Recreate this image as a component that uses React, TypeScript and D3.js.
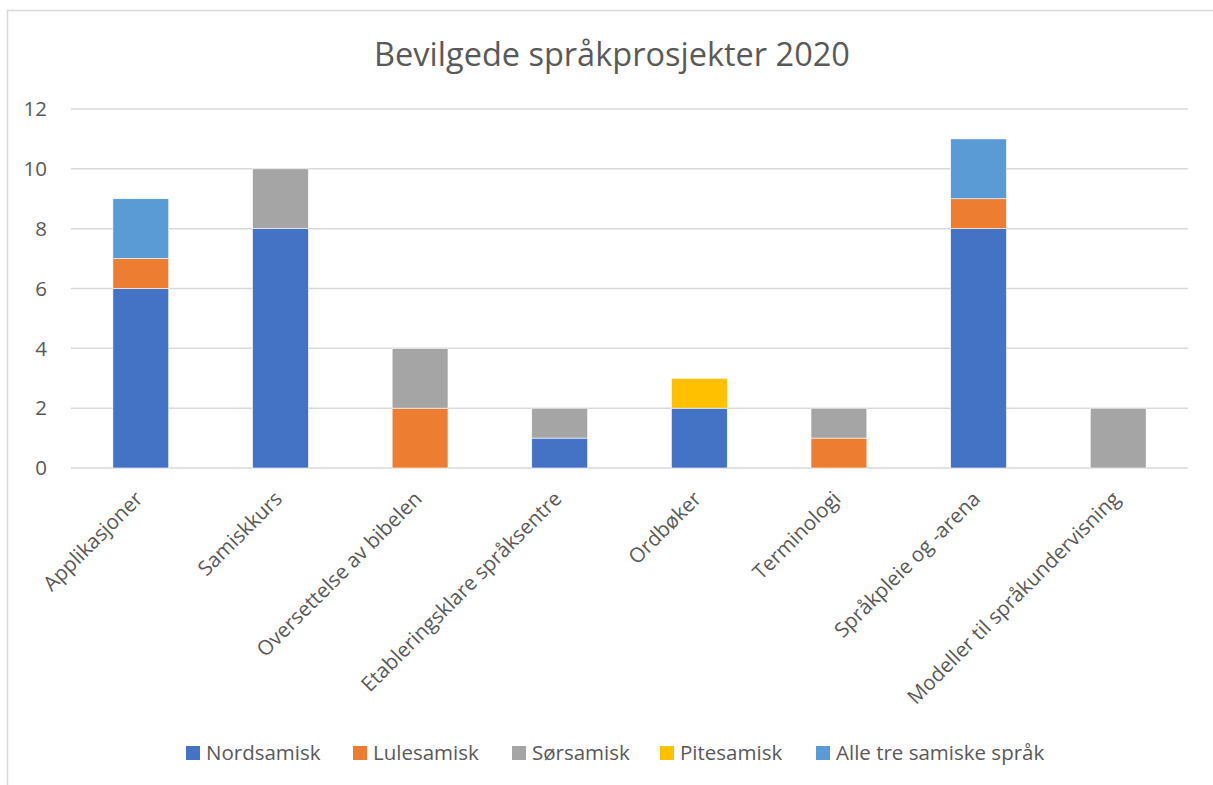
import { useEffect, useRef } from "react";
import * as d3 from "d3";

const categories = [
  "Applikasjoner",
  "Samiskkurs",
  "Oversettelse av bibelen",
  "Etableringsklare språksentre",
  "Ordbøker",
  "Terminologi",
  "Språkpleie og -arena",
  "Modeller til språkundervisning",
];

const seriesNames = ["Nordsamisk", "Lulesamisk", "Sørsamisk", "Pitesamisk", "Alle tre samiske språk"];
const nordsamisk = [6, 8, 0, 1, 2, 0, 8, 0];
const lulesamisk = [1, 0, 2, 0, 0, 1, 1, 0];
const sorsamisk = [0, 2, 2, 1, 0, 1, 0, 2];
const pitesamisk = [0, 0, 0, 0, 1, 0, 0, 0];
const alleTre = [2, 0, 0, 0, 0, 0, 2, 0];
const colors = ["#4472C4", "#ED7D31", "#A5A5A5", "#FFC000", "#5B9BD5"];
const yTicks = [0, 2, 4, 6, 8, 10, 12];

const FONT = "'Open Sans', sans-serif";

export default function App() {
  const ref = useRef<SVGSVGElement>(null);

  useEffect(() => {
    const svg = d3.select(ref.current);
    svg.selectAll("*").remove();

    const width = 1213;
    const height = 785;
    const margin = { top: 109, right: 25, bottom: 317, left: 71 };

    svg
      .append("rect")
      .attr("x", 7.5)
      .attr("y", 10.5)
      .attr("width", width)
      .attr("height", height)
      .attr("fill", "white")
      .attr("stroke", "#d9d9d9")
      .attr("stroke-width", 1.5);

    const x = d3
      .scaleBand()
      .domain(categories)
      .range([margin.left, width - margin.right])
      .paddingInner(0.6)
      .paddingOuter(0.3);

    const y = d3
      .scaleLinear()
      .domain([0, 12])
      .range([height - margin.bottom, margin.top]);

    // grid
    svg
      .append("g")
      .selectAll("line")
      .data(yTicks)
      .join("line")
      .attr("x1", margin.left)
      .attr("x2", width - margin.right)
      .attr("y1", (d) => y(d))
      .attr("y2", (d) => y(d))
      .attr("stroke", "#d9d9d9")
      .attr("stroke-width", 1.5);

    svg
      .append("g")
      .selectAll("text")
      .data(yTicks)
      .join("text")
      .attr("x", 47)
      .attr("y", (d) => y(d))
      .attr("dy", "0.35em")
      .attr("text-anchor", "end")
      .attr("font-family", FONT)
      .attr("font-size", 20.5)
      .attr("fill", "#595959")
      .text((d) => d);

    const table = categories.map((c, i) => ({
      cat: c,
      Nordsamisk: nordsamisk[i],
      Lulesamisk: lulesamisk[i],
      "Sørsamisk": sorsamisk[i],
      Pitesamisk: pitesamisk[i],
      "Alle tre samiske språk": alleTre[i],
    }));
    const stack = d3.stack<any>().keys(seriesNames)(table);

    svg
      .append("g")
      .selectAll("g")
      .data(stack)
      .join("g")
      .attr("fill", (_, i) => colors[i])
      .selectAll("rect")
      .data((s) => s.filter((d) => d[1] - d[0] > 0))
      .join("rect")
      .attr("x", (d) => x(d.data.cat)!)
      .attr("width", x.bandwidth())
      .attr("y", (d) => y(d[1]))
      .attr("height", (d) => y(d[0]) - y(d[1]))
      .attr("stroke", "white")
      .attr("stroke-width", 0.6);

    // x labels
    svg
      .append("g")
      .selectAll("text")
      .data(categories)
      .join("text")
      .attr(
        "transform",
        (d) => `translate(${x(d)! + x.bandwidth() / 2 - 2},${y(0) + 27}) rotate(-45)`
      )
      .attr("text-anchor", "end")
      .attr("dy", "0.35em")
      .attr("font-family", FONT)
      .attr("font-size", 20.5)
      .attr("fill", "#595959")
      .text((d) => d);

    svg
      .append("text")
      .attr("x", 612)
      .attr("y", 55)
      .attr("dy", "0.35em")
      .attr("text-anchor", "middle")
      .attr("font-family", FONT)
      .attr("font-size", 32.5)
      .attr("fill", "#595959")
      .text("Bevilgede språkprosjekter 2020");

    // legend
    const legendX = [186, 353, 512, 660, 816];
    const lg = svg
      .append("g")
      .selectAll("g")
      .data(seriesNames)
      .join("g")
      .attr("transform", (_, i) => `translate(${legendX[i]},753)`);
    lg.append("rect")
      .attr("x", 0)
      .attr("y", -7)
      .attr("width", 14)
      .attr("height", 14)
      .attr("fill", (_, i) => colors[i]);
    lg.append("text")
      .attr("x", 20)
      .attr("dy", "0.35em")
      .attr("font-family", FONT)
      .attr("font-size", 20.5)
      .attr("fill", "#595959")
      .text((d) => d);
  }, []);

  return (
    <svg
      ref={ref}
      width={1213}
      height={785}
      style={{ position: "absolute", left: 0, top: 0 }}
    />
  );
}
